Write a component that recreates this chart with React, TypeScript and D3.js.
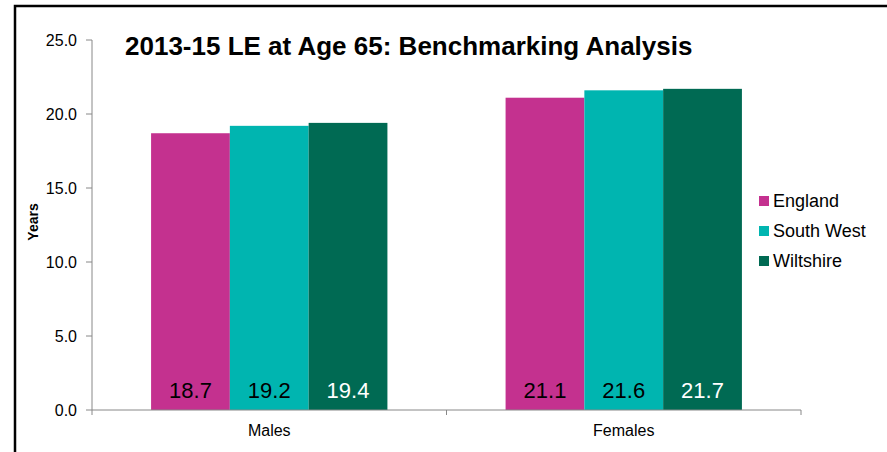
import React from "react";
import * as d3 from "d3";

const categories = ["Males", "Females"];
const seriesNames = ["England", "South West", "Wiltshire"];
const england = [18.7, 21.1];
const southWest = [19.2, 21.6];
const wiltshire = [19.4, 21.7];
const yTicks = [0, 5, 10, 15, 20, 25];
const colors = ["#C4318F", "#00B5B0", "#006A53"];
const labelColors = ["#000000", "#000000", "#FFFFFF"];

export default function App() {
  const W = 887, H = 452;
  const left = 92, right = 801, top = 40, bottom = 410;
  const x = d3.scaleBand<string>().domain(categories).range([left, right]).paddingInner(1 / 3).paddingOuter(1 / 6);
  const x0 = d3.scaleBand<string>().domain(categories).range([left, right]);
  const inner = d3.scaleBand<string>().domain(seriesNames).range([0, x.bandwidth()]);
  const y = d3.scaleLinear().domain([0, 25]).range([bottom, top]);
  const series = [england, southWest, wiltshire];
  const font = "Liberation Sans, Arial, sans-serif";

  return (
    <svg width={W} height={H} style={{ position: "absolute", left: 0, top: 0 }} fontFamily={font}>
      <rect x={0} y={0} width={W} height={H} fill="#fff" />
      <rect x={15} y={6} width={W + 20} height={H + 20} fill="none" stroke="#000" strokeWidth={2.5} />
      {categories.map((c, ci) =>
        series.map((s, si) => {
          const bx = (x(c) as number) + (inner(seriesNames[si]) as number);
          return (
            <g key={c + si}>
              <rect x={bx} y={y(s[ci])} width={inner.bandwidth()} height={bottom - y(s[ci])} fill={colors[si]} />
              <text x={bx + inner.bandwidth() / 2} y={398} textAnchor="middle" fontSize={22} fill={labelColors[si]}>
                {s[ci].toFixed(1)}
              </text>
            </g>
          );
        })
      )}
      {/* y axis */}
      <line x1={left} x2={left} y1={top} y2={bottom} stroke="#888" strokeWidth={1} />
      {yTicks.map((t) => (
        <g key={t}>
          <line x1={left - 6} x2={left} y1={y(t)} y2={y(t)} stroke="#888" />
          <text x={left - 15} y={y(t) + 6} textAnchor="end" fontSize={16} fill="#000">
            {t.toFixed(1)}
          </text>
        </g>
      ))}
      {/* x axis */}
      <line x1={left} x2={right} y1={bottom} y2={bottom} stroke="#888" strokeWidth={1} />
      {[left, x0("Females") as number, right].map((v, i) => (
        <line key={i} x1={v} x2={v} y1={bottom} y2={bottom + 5} stroke="#888" />
      ))}
      {categories.map((c) => (
        <text key={c} x={(x0(c) as number) + x0.bandwidth() / 2} y={436} textAnchor="middle" fontSize={16} fill="#000">
          {c}
        </text>
      ))}
      <text transform={`translate(38,222) rotate(-90)`} textAnchor="middle" fontSize={14} fontWeight="bold" fill="#000">
        Years
      </text>
      <text x={125} y={55} fontSize={26} fontWeight="bold" fill="#000">
        2013-15 LE at Age 65: Benchmarking Analysis
      </text>
      {seriesNames.map((n, i) => (
        <g key={n}>
          <rect x={759} y={196 + i * 30} width={10} height={10} fill={colors[i]} />
          <text x={773} y={207 + i * 30} fontSize={18} fill="#000">
            {n}
          </text>
        </g>
      ))}
    </svg>
  );
}
